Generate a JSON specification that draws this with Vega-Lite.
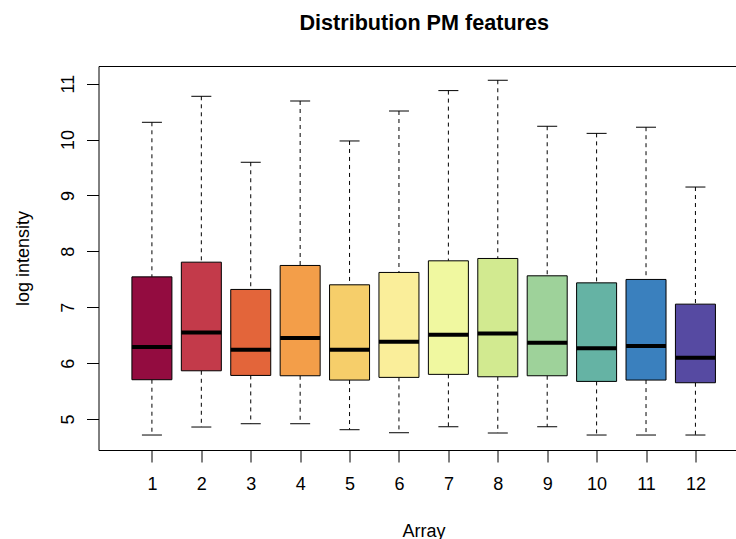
{
  "$schema": "https://vega.github.io/schema/vega-lite/v6.json",
  "autosize": {"type": "none"},
  "width": 637.5,
  "height": 384,
  "padding": {"left": 98.5, "top": 66, "right": 0, "bottom": 89},
  "background": "white",
  "title": {
    "text": "Distribution PM features",
    "font": "Liberation Sans",
    "fontSize": 21.6,
    "fontWeight": "bold",
    "color": "black",
    "anchor": "middle",
    "frame": "group",
    "baseline": "alphabetic",
    "offset": 14,
    "dx": 7
  },
  "config": {
    "view": {"stroke": null},
    "axis": {
      "grid": false,
      "domainColor": "black",
      "domainWidth": 1,
      "tickColor": "black",
      "tickWidth": 1,
      "tickSize": 12,
      "labelColor": "black",
      "labelFont": "Liberation Sans",
      "labelFontSize": 18,
      "titleColor": "black",
      "titleFont": "Liberation Sans",
      "titleFontSize": 18,
      "titleFontWeight": "normal"
    }
  },
  "data": {
    "values": [
      {"array": 1, "lower": 4.714, "q1": 5.703, "median": 6.287, "q3": 7.543, "upper": 10.308},
      {"array": 2, "lower": 4.857, "q1": 5.863, "median": 6.55, "q3": 7.806, "upper": 10.773},
      {"array": 3, "lower": 4.916, "q1": 5.78, "median": 6.239, "q3": 7.318, "upper": 9.593},
      {"array": 4, "lower": 4.916, "q1": 5.774, "median": 6.448, "q3": 7.747, "upper": 10.689},
      {"array": 5, "lower": 4.809, "q1": 5.697, "median": 6.239, "q3": 7.401, "upper": 9.974},
      {"array": 6, "lower": 4.755, "q1": 5.745, "median": 6.382, "q3": 7.622, "upper": 10.51},
      {"array": 7, "lower": 4.862, "q1": 5.799, "median": 6.507, "q3": 7.83, "upper": 10.875},
      {"array": 8, "lower": 4.75, "q1": 5.756, "median": 6.532, "q3": 7.872, "upper": 11.06},
      {"array": 9, "lower": 4.862, "q1": 5.774, "median": 6.364, "q3": 7.562, "upper": 10.237},
      {"array": 10, "lower": 4.714, "q1": 5.673, "median": 6.264, "q3": 7.436, "upper": 10.11},
      {"array": 11, "lower": 4.714, "q1": 5.697, "median": 6.305, "q3": 7.497, "upper": 10.22},
      {"array": 12, "lower": 4.714, "q1": 5.649, "median": 6.096, "q3": 7.055, "upper": 9.15}
    ]
  },
  "resolve": {"axis": {"x": "independent"}},
  "layer": [
    {
      "mark": {"type": "rule", "color": "black", "strokeWidth": 1, "strokeDash": [4, 4]},
      "encoding": {
        "x": {
          "field": "array", "type": "quantitative",
          "scale": {"domain": [0.02, 12.72], "nice": false, "zero": false},
          "axis": {
            "orient": "bottom",
            "values": [1, 2, 3, 4, 5, 6, 7, 8, 9, 10, 11, 12],
            "format": "d",
            "labelAngle": 0,
            "labelPadding": 13,
            "title": "Array",
            "titlePadding": 29,
            "titleX": 325
          }
        },
        "y": {
          "field": "upper", "type": "quantitative", "title": "log intensity",
          "scale": {"domain": [4.446, 11.315], "nice": false, "zero": false},
          "axis": {
            "values": [5, 6, 7, 8, 9, 10, 11],
            "format": "d",
            "labelAngle": 270,
            "labelAlign": "center",
            "labelBaseline": "alphabetic",
            "labelPadding": 13,
            "titlePadding": 27
          }
        },
        "y2": {"field": "q3"}
      }
    },
    {
      "mark": {"type": "rule", "color": "black", "strokeWidth": 1, "strokeDash": [4, 4]},
      "encoding": {
        "x": {"field": "array", "type": "quantitative", "axis": null},
        "y": {"field": "q1", "type": "quantitative", "title": "log intensity"},
        "y2": {"field": "lower"}
      }
    },
    {
      "mark": {"type": "tick", "orient": "horizontal", "size": 20, "thickness": 1, "color": "black", "opacity": 1},
      "encoding": {
        "x": {"field": "array", "type": "quantitative", "axis": null},
        "y": {"field": "upper", "type": "quantitative", "title": "log intensity"}
      }
    },
    {
      "mark": {"type": "tick", "orient": "horizontal", "size": 20, "thickness": 1, "color": "black", "opacity": 1},
      "encoding": {
        "x": {"field": "array", "type": "quantitative", "axis": null},
        "y": {"field": "lower", "type": "quantitative", "title": "log intensity"}
      }
    },
    {
      "mark": {"type": "bar", "width": 40, "stroke": "black", "strokeWidth": 1, "opacity": 1},
      "encoding": {
        "x": {"field": "array", "type": "quantitative", "axis": null},
        "y": {"field": "q1", "type": "quantitative", "title": "log intensity"},
        "y2": {"field": "q3"},
        "color": {
          "field": "array", "type": "nominal", "legend": null,
          "scale": {
            "domain": [1, 2, 3, 4, 5, 6, 7, 8, 9, 10, 11, 12],
            "range": ["#930C40", "#C33A4A", "#E3653A", "#F39E49", "#F6CE6A", "#FAEE9A", "#F0F8A0", "#D2EA90", "#9ED29A", "#65B3A4", "#3A80BE", "#564AA2"]
          }
        }
      }
    },
    {
      "mark": {"type": "tick", "orient": "horizontal", "size": 40, "thickness": 4, "color": "black", "opacity": 1},
      "encoding": {
        "x": {
          "field": "array", "type": "quantitative",
          "axis": {"orient": "top", "labels": false, "ticks": false, "title": null, "domain": true}
        },
        "y": {"field": "median", "type": "quantitative", "title": "log intensity"}
      }
    }
  ]
}
